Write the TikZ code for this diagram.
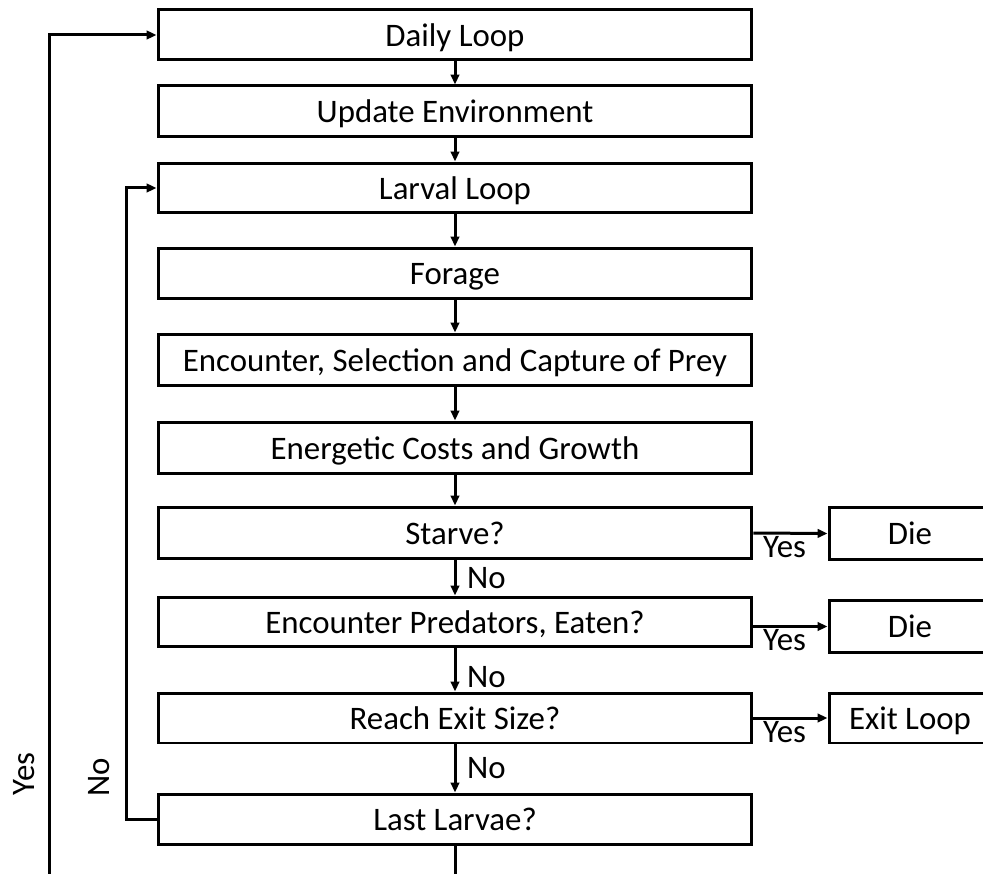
\documentclass[tikz,border=0pt]{standalone}
\usepackage{fontspec}
\setmainfont{Carlito}
\usetikzlibrary{arrows.meta}
\begin{document}
\begin{tikzpicture}[x=0.02cm,y=-0.02cm,
  txt/.style={font=\fontsize{18.7}{22}\selectfont},
  box/.style={draw, line width=0.06cm, minimum width=11.88cm, minimum height=1.0cm, inner sep=0pt, text depth=0pt, txt},
  sidebox/.style={box, minimum width=3.24cm},
  conn/.style={line width=0.06cm},
  arr/.style={conn, -{Triangle[length=0.2cm,width=0.17cm]}},
  lbl/.style={txt, inner sep=1pt}]
\clip (0,0) rectangle (983,874);
\fill[white] (0,0) rectangle (983,874);

\node[box, minimum height=1.0cm] (daily) at (455,35) {Daily Loop};
\node[box, minimum height=1.02cm] (update) at (455,111.5) {Update Environment};
\node[box, minimum height=1.0cm] (larval) at (455,188) {Larval Loop};
\node[box, minimum height=1.02cm] (forage) at (455,273.5) {Forage};
\node[box, minimum height=1.04cm] (ecs) at (455,360) {Encounter, Selection and Capture of Prey};
\node[box, minimum height=1.04cm] (energ) at (455,448) {Energetic Costs and Growth};
\node[box, minimum height=1.04cm] (starve) at (455,533) {Starve?};
\node[box, minimum height=1.0cm] (pred) at (455,622) {Encounter Predators, Eaten?};
\node[box, minimum height=1.0cm] (reach) at (455,718) {Reach Exit Size?};
\node[box, minimum height=1.0cm] (last) at (455,819) {Last Larvae?};

\node[sidebox, minimum height=1.06cm] (die1) at (910,533.5) {Die};
\node[sidebox, minimum height=1.06cm] (die2) at (910,626.5) {Die};
\node[sidebox, minimum height=1.0cm] (exit) at (910,718) {Exit Loop};

\draw[arr] (daily) -- (update);
\draw[arr] (update) -- (larval);
\draw[arr] (larval) -- (forage);
\draw[arr] (forage) -- (ecs);
\draw[arr] (ecs) -- (energ);
\draw[arr] (energ) -- (starve);
\draw[arr] (starve) -- node[lbl, right=5pt] {No} (pred);
\draw[arr] (pred) -- node[lbl, right=5pt, yshift=-4pt] {No} (reach);
\draw[arr] (reach) -- node[lbl, right=5pt] {No} (last);

\draw[arr] (starve.east) -- node[lbl, below, pos=0.42] {Yes} (die1.west);
\draw[arr] (pred.east |- die2.west) -- node[lbl, below, pos=0.42] {Yes} (die2.west);
\draw[arr] (reach.east) -- node[lbl, below, pos=0.42] {Yes} (exit.west);

\coordinate (ybot) at (49,890);
\coordinate (lbot) at (455,890);
\draw[conn] (last) -- (lbot);
\draw[arr] (ybot) |- (daily.west);
\draw[arr] (last.west) -- ++(-30,0) |- (larval.west);

\node[lbl, rotate=90] (yeslbl) at (24,774) {Yes};
\node[lbl, rotate=90] (nolbl) at (99,777) {No};
\end{tikzpicture}
\end{document}
